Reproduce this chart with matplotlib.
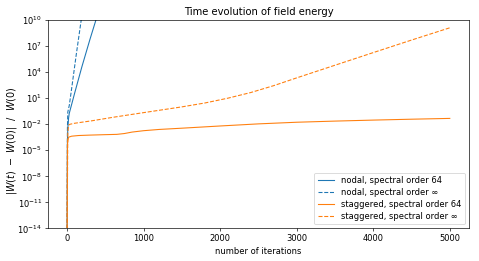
import matplotlib
matplotlib.use("Agg")
import matplotlib.pyplot as plt

# -----------------------------
# Data
# -----------------------------
nodal_64_it = [0, 5, 10, 20, 29, 100, 194, 300, 377, 450]
nodal_64_err = [1e-16, 1e-4, 3.2e-3, 5.0e-2, 0.18, 40, 4.2e4, 6.3e7, 1e10, 1e12]

nodal_inf_it = [0, 5, 10, 30, 63, 120, 185, 230]
nodal_inf_err = [1e-16, 3.2e-3, 0.25, 1.6, 200, 1e6, 1e10, 3.2e12]

stag_64_it = [0, 5, 10, 20, 60, 150, 300, 500, 650, 750, 850, 1000, 1200, 1500,
              2000, 2500, 3000, 3500, 4000, 4500, 5000]
stag_64_err = [1e-16, 3.2e-5, 1.3e-4, 3.2e-4, 4.2e-4, 5.0e-4, 5.6e-4, 6.3e-4,
               6.8e-4, 8.5e-4, 1.25e-3, 1.8e-3, 2.5e-3, 3.5e-3, 6.3e-3, 1.1e-2,
               1.7e-2, 2.3e-2, 3.0e-2, 3.8e-2, 4.7e-2]

stag_inf_it = [0, 10, 20, 40, 100, 325, 600, 900, 1200, 1500, 1800, 2100,
               2400, 2700, 3000, 3500, 4000, 4500, 5000]
stag_inf_err = [1e-16, 1e-3, 7.9e-3, 1.0e-2, 1.3e-2, 2.5e-2, 6.3e-2, 0.16,
                0.40, 1.0, 2.8, 10, 45, 280, 2.2e3, 6.3e4, 1.8e6, 5.0e7, 1.3e9]

ytick_vals = [1e-14, 1e-11, 1e-8, 1e-5, 1e-2, 1e1, 1e4, 1e7, 1e10]

# -----------------------------
# Plot
# -----------------------------
fig = plt.figure(figsize=(479 / 60, 261 / 60), dpi=60)
ax = fig.add_subplot(111)
fig.subplots_adjust(left=0.100, right=0.979, top=0.923, bottom=0.125)

ax.semilogy(nodal_64_it, nodal_64_err, color="C0", ls="-", lw=1.3,
            label="nodal, spectral order 64")
ax.semilogy(nodal_inf_it, nodal_inf_err, color="C0", ls="--", lw=1.3,
            label="nodal, spectral order \u221e")
ax.semilogy(stag_64_it, stag_64_err, color="C1", ls="-", lw=1.3,
            label="staggered, spectral order 64")
ax.semilogy(stag_inf_it, stag_inf_err, color="C1", ls="--", lw=1.3,
            label="staggered, spectral order \u221e")

ax.set_xlim(-250, 5250)
ax.set_ylim(1e-14, 1e10)
ax.set_yticks(ytick_vals)
ax.minorticks_off()

ax.set_title("Time evolution of field energy")
ax.set_xlabel("number of iterations")
ax.set_ylabel(r"$|W(t)\ -\ W(0)|\ \ /\ \ W(0)$", fontsize=11.5)
ax.yaxis.set_label_coords(-0.068, 0.42)
ax.legend(loc="lower right", labelspacing=0.35)

plt.savefig("out.png", dpi=60)
